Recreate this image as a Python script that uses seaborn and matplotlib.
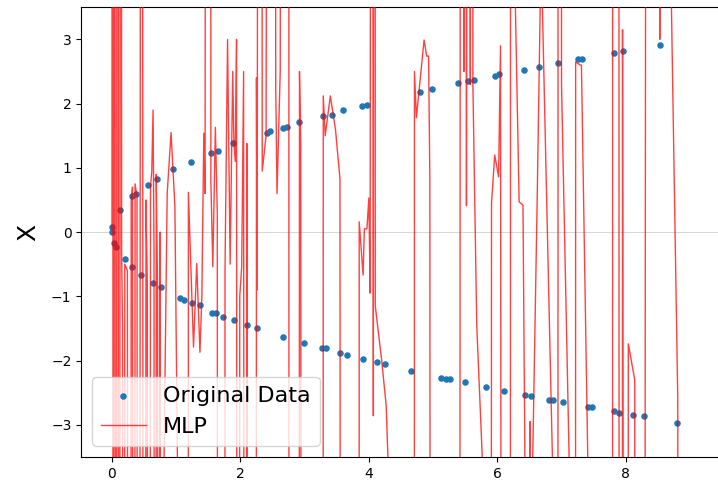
import numpy as np
import pandas as pd
import matplotlib
matplotlib.use("Agg")
import matplotlib.pyplot as plt
import seaborn as sns

# Observed samples: upper and lower branches of the curve
t_upper = [0.0, 0.0, 0.12, 0.31, 0.38, 0.56, 0.70, 0.95, 1.23, 1.54, 1.65, 1.89,
           2.41, 2.46, 2.66, 2.72, 2.91, 3.29, 3.42, 3.60, 3.89, 3.97, 4.80,
           4.98, 5.39, 5.55, 5.63, 5.97, 6.03, 6.42, 6.65, 6.95, 7.25, 7.32,
           7.81, 7.95, 8.54]
x_upper = [0.0, 0.08, 0.35, 0.56, 0.60, 0.74, 0.82, 0.98, 1.09, 1.23, 1.26, 1.38,
           1.55, 1.57, 1.62, 1.63, 1.72, 1.81, 1.83, 1.90, 1.96, 1.98, 2.18,
           2.22, 2.32, 2.35, 2.36, 2.43, 2.46, 2.52, 2.57, 2.63, 2.69, 2.69,
           2.79, 2.82, 2.91]
t_lower = [0.03, 0.07, 0.20, 0.31, 0.45, 0.64, 0.76, 1.06, 1.12, 1.24, 1.37, 1.56,
           1.62, 1.73, 1.90, 2.10, 2.26, 2.66, 2.99, 3.27, 3.34, 3.55, 3.66,
           3.91, 4.12, 4.25, 4.66, 5.13, 5.20, 5.26, 5.50, 5.83, 6.11, 6.43,
           6.52, 6.81, 6.87, 7.03, 7.42, 7.47, 7.81, 7.90, 8.12, 8.29, 8.80]
x_lower = [-0.17, -0.23, -0.42, -0.54, -0.67, -0.79, -0.85, -1.02, -1.05, -1.11,
           -1.14, -1.26, -1.26, -1.32, -1.37, -1.45, -1.50, -1.64, -1.72, -1.80,
           -1.81, -1.89, -1.91, -1.98, -2.03, -2.05, -2.16, -2.27, -2.28, -2.29,
           -2.34, -2.41, -2.47, -2.54, -2.55, -2.61, -2.61, -2.65, -2.72, -2.73,
           -2.79, -2.82, -2.85, -2.86, -2.97]

# MLP prediction over t (large values shoot far past the axes)
mlp_t = [0.00, 0.01, 0.02, 0.035, 0.05, 0.06, 0.075, 0.085, 0.10, 0.11,
         0.125, 0.135, 0.15, 0.165, 0.18, 0.20, 0.24, 0.27, 0.30, 0.32,
         0.34, 0.36, 0.39, 0.41, 0.44, 0.46, 0.48, 0.50, 0.53, 0.55,
         0.57, 0.60, 0.62, 0.64, 0.655, 0.67, 0.69, 0.71, 0.73, 0.75,
         0.77, 0.81, 0.86, 0.92, 0.98, 1.02, 1.03, 1.18, 1.19, 1.27,
         1.32, 1.37, 1.40, 1.43, 1.45, 1.48, 1.53, 1.54, 1.57, 1.61,
         1.64, 1.66, 1.75, 1.76, 1.80, 1.84, 1.88, 1.90, 1.92, 1.94,
         1.96, 1.99, 2.02, 2.05, 2.07, 2.10, 2.12, 2.24, 2.25, 2.26,
         2.31, 2.34, 2.40, 2.46, 2.52, 2.55, 2.57, 2.62, 2.67, 2.75,
         2.76, 2.90, 2.92, 2.94, 2.96, 3.28, 3.29, 3.32, 3.40, 3.48,
         3.55, 3.58, 3.84, 3.85, 3.91, 3.93, 3.97, 4.00, 4.02, 4.05,
         4.07, 4.09, 4.10, 4.20, 4.27, 4.30, 4.31, 4.70, 4.71, 4.74,
         4.86, 4.90, 4.93, 4.95, 4.97, 5.41, 5.42, 5.45, 5.48, 5.50,
         5.52, 5.55, 5.58, 5.60, 5.62, 5.68, 5.77, 5.78, 5.89, 5.91,
         5.96, 6.02, 6.05, 6.09, 6.20, 6.21, 6.27, 6.28, 6.34, 6.40,
         6.43, 6.44, 6.50, 6.51, 6.52, 6.54, 6.55, 6.62, 6.67, 6.68,
         6.69, 6.70, 6.86, 6.87, 6.94, 6.95, 6.99, 7.00, 7.12, 7.13,
         7.21, 7.22, 7.29, 7.31, 7.41, 7.42, 7.79, 7.80, 7.89, 7.90,
         7.94, 7.95, 8.00, 8.03, 8.04, 8.14, 8.16, 8.27, 8.34, 8.52,
         8.53, 8.54, 8.70, 8.71, 8.81, 8.83]
mlp_x = [0.05, 40, -40, 40, 0.3, -40, 0.6, 40, 0.2, -40,
         0.4, 40, -0.3, -1.5, -40, -0.5, -0.6, -40, 0.5, 0.7,
         -40, 0.75, 0.55, -40, 0.8, 40, 0.6, -40, 0.5, -0.8,
         -40, 0.7, 0.95, 1.9, -0.3, -40, 0.9, -0.9, -40, 0.0,
         -40, -3.6, 0.6, 1.55, 0.4, -3.6, -40, -40, 0.62, -1.79,
         -0.49, -1.87, -1.0, 1.54, 0.6, 40, 40, 0.8, -0.54, 1.63,
         0.3, -40, -40, -0.6, 3.0, -0.5, 2.5, 1.37, 1.1, 3.0,
         -40, -1.0, -0.54, 2.5, -40, 1.38, -40, -40, 2.4, -0.9,
         40, 0.95, 1.5, 40, 40, 2.3, 0.6, 2.5, 40, 40,
         -40, -40, 2.5, 1.33, -40, -40, 2.12, 1.5, 2.12, 1.6,
         0.83, -40, -40, 0.16, -0.67, 0.05, 0.05, 0.53, -0.95, 40,
         -2.86, 40, -1.15, -2.0, -2.7, -3.6, -40, -40, 2.5, 1.78,
         2.99, 2.74, 2.74, 0.8, -40, -40, 0.37, 40, 2.5, 40,
         0.41, 40, 2.3, 40, 2.3, -1.45, -3.6, -40, -40, 0.45,
         1.2, 0.86, 2.9, -40, -40, 40, 40, 3.6, 0.47, 0.42,
         -3.6, -40, -40, -2.95, -40, -40, -3.6, 0.45, 3.6, 40,
         40, 3.6, -3.6, -40, -40, 40, 40, 2.3, -3.6, -40,
         -40, 2.65, 2.6, 2.6, -3.6, -40, -40, 40, 40, -40,
         -40, 3.15, -40, -40, -1.74, -2.3, -40, -40, 40, 40,
         3.0, 40, 40, 3.6, -2.6, -40]

data = pd.DataFrame({"t": t_upper + t_lower, "X": x_upper + x_lower})
mlp = pd.DataFrame({"t": mlp_t, "X": mlp_x})

fig = plt.figure(figsize=(7.18, 4.84), dpi=100)
ax = fig.add_axes([0.113, 0.056, 0.89, 0.929])

ax.axhline(0, color="#d0d0d0", linewidth=0.6, zorder=0)
sns.scatterplot(data=data, x="t", y="X", ax=ax, s=22, color="#1f77b4",
                linewidth=0, label="Original Data", zorder=2)
sns.lineplot(data=mlp, x="t", y="X", ax=ax, estimator=None, sort=False,
             color="red", linewidth=1.0, alpha=0.75, label="MLP", zorder=3)

ax.set_xlim(-0.48, 9.47)
ax.set_ylim(-3.5, 3.5)
ax.set_xticks([0, 2, 4, 6, 8])
ax.set_yticks([-3, -2, -1, 0, 1, 2, 3])
ax.set_xlabel("")
ax.set_ylabel("X", fontsize=18, labelpad=8)
ax.spines["right"].set_visible(False)

ax.legend(loc="lower left", fontsize=16, framealpha=0.8,
          edgecolor="#cccccc")

fig.savefig("out.png", dpi=100)
